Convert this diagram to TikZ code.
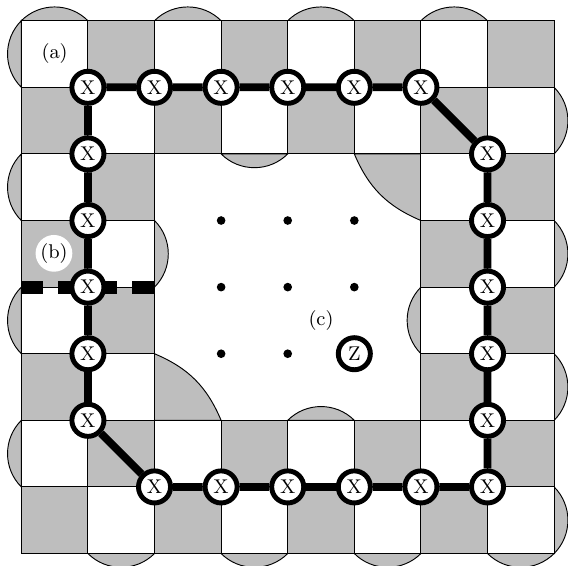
\documentclass[tikz,border=0pt]{standalone}
\definecolor{cellgray}{gray}{0.745}
\tikzset{
  cellbox/.style={draw=black,line width=0.45pt},
  capshape/.style={draw=black,fill=cellgray,line width=0.4pt},
  qubit/.style={circle,draw=black,fill=white,line width=2.1pt,minimum size=13.7pt,inner sep=0pt,font=\fontsize{8.5}{9}\selectfont},
  chain/.style={line width=3.3pt,black},
  cutline/.style={line width=5.6pt,black,dash pattern=on 9.4pt off 6.4pt},
  ancilla/.style={circle,fill=black,minimum size=3.7pt,inner sep=0pt},
  tag/.style={font=\fontsize{8.5}{9}\selectfont,inner sep=1pt}
}
\begin{document}
\begin{tikzpicture}[x=1cm,y=1cm]
\useasboundingbox (-0.32,-0.1725) rectangle (8.2085,8.311);
% grid points
\foreach \i in {0,...,8}\foreach \j in {0,...,8}{\coordinate (g\i-\j) at (\i,8-\j);}
% boundary and inner caps
\foreach \a/\b in {0/1,2/3,4/5,6/7}{
  \draw[capshape] (g\b-0) to[bend right=45] (g\a-0) -- cycle;
  \draw[capshape] (g0-\a) to[bend right=45] (g0-\b) -- cycle;
}
\foreach \a/\b in {1/2,3/4,5/6,7/8}{
  \draw[capshape] (g8-\b) to[bend right=45] (g8-\a) -- cycle;
  \draw[capshape] (g\a-8) to[bend right=45] (g\b-8) -- cycle;
}
\draw[capshape] (g3-2) to[bend right=45] (g4-2) -- cycle;
\draw[capshape] (g2-3) to[bend left=45] (g2-4) -- cycle;
\draw[capshape] (g6-5) to[bend left=45] (g6-4) -- cycle;
\draw[capshape] (g5-6) to[bend right=45] (g4-6) -- cycle;
% large corner arcs
\draw[capshape] (g5-2) to[bend right=22] (g6-3) -- (g6-2) -- cycle;
\draw[capshape] (g2-5) to[bend left=22] (g3-6) -- (g2-6) -- cycle;
% checkerboard ring
\foreach \c in {0,...,7}\foreach \r in {0,...,7}{
  \pgfmathtruncatemacro{\inner}{(\c>1)*(\c<6)*(\r>1)*(\r<6)}
  \ifnum\inner=0
    \ifodd\numexpr\c+\r\relax
      \draw[cellbox,fill=cellgray] (\c,8-\r) rectangle ++(1,-1);
    \else
      \draw[cellbox,fill=white] (\c,8-\r) rectangle ++(1,-1);
    \fi
  \fi
}
% inner dots
\foreach \i/\j in {3/3,4/3,5/3,3/4,4/4,5/4,3/5,4/5}{
  \node[ancilla] (d\i-\j) at (g\i-\j) {};
}
% labels
\node[tag] (la) at (0.5,7.5) {(a)};
\node[circle,fill=white,minimum size=15.7pt,inner sep=0pt,font=\fontsize{8.5}{9}\selectfont] (lb) at (0.49,4.507) {(b)};
\node[tag] (lc) at (4.5,3.5) {(c)};
% dashed cut
\coordinate (cutL) at (g0-4);
\coordinate (cutR) at (g2-4);
\draw[cutline] (cutL) -- (cutR);
% chain nodes
\node[qubit] (t1) at (g1-1) {X};
\node[qubit] (t2) at (g2-1) {X};
\node[qubit] (t3) at (g3-1) {X};
\node[qubit] (t4) at (g4-1) {X};
\node[qubit] (t5) at (g5-1) {X};
\node[qubit] (t6) at (g6-1) {X};
\node[qubit] (r2) at (g7-2) {X};
\node[qubit] (r3) at (g7-3) {X};
\node[qubit] (r4) at (g7-4) {X};
\node[qubit] (r5) at (g7-5) {X};
\node[qubit] (r6) at (g7-6) {X};
\node[qubit] (r7) at (g7-7) {X};
\node[qubit] (b6) at (g6-7) {X};
\node[qubit] (b5) at (g5-7) {X};
\node[qubit] (b4) at (g4-7) {X};
\node[qubit] (b3) at (g3-7) {X};
\node[qubit] (b2) at (g2-7) {X};
\node[qubit] (l6) at (g1-6) {X};
\node[qubit] (l5) at (g1-5) {X};
\node[qubit] (l4) at (g1-4) {X};
\node[qubit] (l3) at (g1-3) {X};
\node[qubit] (l2) at (g1-2) {X};
\node[qubit] (zz) at (g5-5) {Z};
% connectors
\draw[chain] (t1)--(t2) (t2)--(t3) (t3)--(t4) (t4)--(t5) (t5)--(t6) (t6)--(r2)
  (r2)--(r3) (r3)--(r4) (r4)--(r5) (r5)--(r6) (r6)--(r7)
  (r7)--(b6) (b6)--(b5) (b5)--(b4) (b4)--(b3) (b3)--(b2) (b2)--(l6)
  (l6)--(l5) (l5)--(l4) (l4)--(l3) (l3)--(l2) (l2)--(t1);
\end{tikzpicture}
\end{document}
